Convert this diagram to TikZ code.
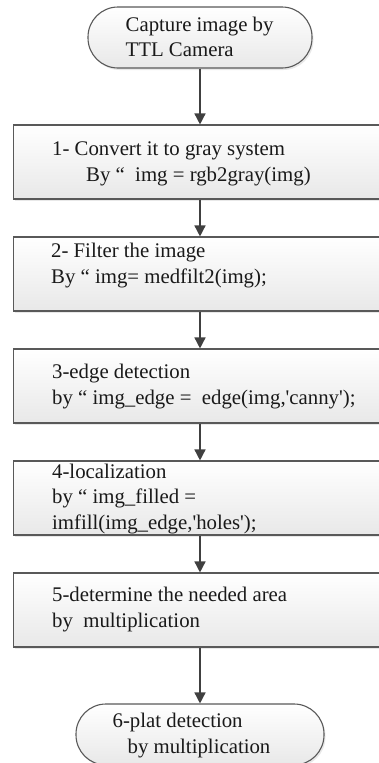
\documentclass[tikz,border=0pt]{standalone}
\usepackage{fontspec}
\setmainfont{Liberation Serif}
\usetikzlibrary{positioning}
\usetikzlibrary{arrows.meta, shadows}

\tikzset{
  stepbox/.style={draw=black!65, line width=1.1pt, top color=white, bottom color=black!9,
    minimum width=373pt, minimum height=74pt, inner sep=0pt,
    drop shadow={opacity=0.18, shadow xshift=1.5pt, shadow yshift=-2pt}},
  termbox/.style={stepbox, rounded corners=30pt, minimum height=61pt},
  steptext/.style={anchor=base west, align=left, inner sep=0pt,
    font=\fontsize{20.8}{25.5}\selectfont, text=black!90},
  flow/.style={draw=black!75, line width=1.5pt, -{Triangle[length=11pt,width=11pt]}}
}

\begin{document}
\begin{tikzpicture}[x=1pt, y=-1pt]
    \useasboundingbox (0,0) rectangle (379,763);
    \clip (0,0) rectangle (379,763);

    % Start and end terminators
    \node[termbox, minimum width=224pt] (cap) at (200,37.5) {};
    \node[termbox, minimum width=248pt] (plat) at (200,734.5) {};

    % Process steps
    \foreach \i in {1,...,5} {
        \node[stepbox] (s\i) at (200,{162+112*(\i-1)}) {}; % Step box
    }

    % Connectors
    \draw[flow] (cap) -- (s1);
    \foreach \i/\j in {1/2,2/3,3/4,4/5} {
        \draw[flow] (s\i) -- (s\j);
    }
    \draw[flow] (s5) -- (plat);

    % Texts (base = last line)
    \node[steptext] (captxt) at ([xshift=38pt,yshift=-50.5pt]cap.north west)
        {Capture image by\\TTL Camera};
    \node[steptext] (s1txt) at ([xshift=39pt,yshift=-57pt]s1.north west)
        {1- Convert it to gray system\\\hspace*{34pt}By “\ \ img = rgb2gray(img)};
    \node[steptext] (s2txt) at ([xshift=38pt,yshift=-47pt]s2.north west)
        {2- Filter the image\\By “ img= medfilt2(img);};
    \node[steptext] (s3txt) at ([xshift=39pt,yshift=-56pt]s3.north west)
        {3-edge detection\\by “ img\_edge = \ edge(img,\textquotesingle canny\textquotesingle);};
    \node[steptext] (s4txt) at ([xshift=39pt,yshift=-69pt]s4.north west)
        {4-localization\\by “ img\_filled =\\imfill(img\_edge,\textquotesingle holes\textquotesingle);};
    \node[steptext] (s5txt) at ([xshift=39pt,yshift=-55pt]s5.north west)
        {5-determine the needed area\\by \ multiplication};
    \node[steptext] (plattxt) at ([xshift=37pt,yshift=-50pt]plat.north west)
        {6-plat detection\\\hspace*{15pt}by multiplication};
\end{tikzpicture}
\end{document}
